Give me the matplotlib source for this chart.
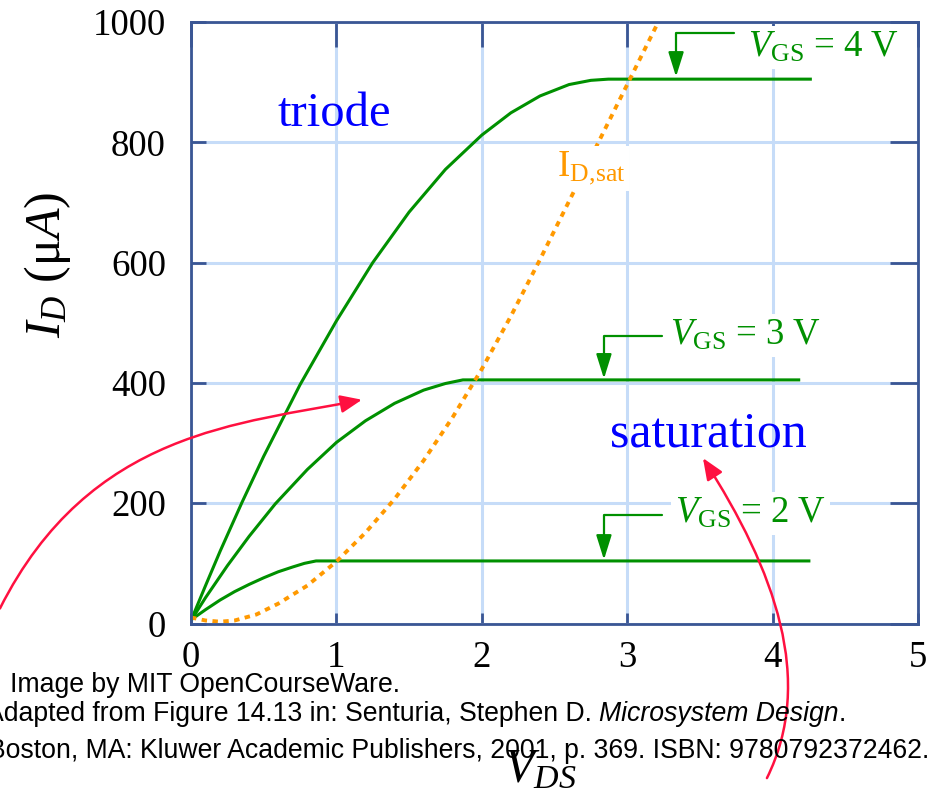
import matplotlib
matplotlib.use("Agg")
import matplotlib.pyplot as plt
from matplotlib.path import Path
from matplotlib.patches import FancyArrowPatch

# ---------------- data ----------------
x_ticks = [0, 1, 2, 3, 4, 5]
y_ticks = [0, 200, 400, 600, 800, 1000]

vds_4 = [0.0, 0.1, 0.2, 0.35, 0.5, 0.75, 1.0, 1.25, 1.5, 1.75, 2.0, 2.2, 2.4, 2.6, 2.75, 2.87, 4.27]
id_4 = [5, 63, 120, 201, 278, 397, 503, 600, 684, 755, 812, 849, 877, 896, 903, 905, 905]

vds_3 = [0.0, 0.1, 0.25, 0.4, 0.58, 0.8, 1.0, 1.2, 1.4, 1.6, 1.75, 1.87, 4.19]
id_3 = [5, 43, 96, 145, 199, 256, 301, 337, 366, 388, 399, 405, 405]

vds_2 = [0.0, 0.1, 0.2, 0.3, 0.4, 0.5, 0.6, 0.7, 0.78, 0.86, 4.26]
id_2 = [6, 23, 39, 53, 65, 76, 86, 94, 100, 104, 104]

vds_sat = [0.0, 0.1, 0.2, 0.3, 0.45, 0.6, 0.8, 1.0, 1.2, 1.4, 1.6, 1.8, 2.0, 2.2, 2.4, 2.6, 2.8, 3.0, 3.22]
id_sat = [10, 5, 3, 5, 15, 33, 63, 103, 151, 207, 271, 343, 423, 511, 605, 702, 799, 896, 1003]

vgs_labels = ["4", "3", "2"]

# ---------------- style ----------------
plt.rcParams["font.family"] = ["Liberation Serif", "DejaVu Serif"]
plt.rcParams["mathtext.fontset"] = "custom"
plt.rcParams["mathtext.rm"] = "Liberation Serif"
plt.rcParams["mathtext.it"] = "Liberation Serif:italic"
plt.rcParams["mathtext.bf"] = "Liberation Serif:bold"
plt.rcParams["axes.axisbelow"] = True

FRAME = "#3a5694"
GRID = "#c6dcf8"
GREEN = "#009000"
ORANGE = "#ff9900"
RED = "#ff1040"
BLUE = "#0000ff"

fig = plt.figure(figsize=(9.32, 7.95), dpi=100)
W, H = 932, 795
ax = fig.add_axes([191 / W, (H - 623.5) / H, (918 - 191) / W, (623.5 - 22) / H])
ax.set_xlim(0, 5)
ax.set_ylim(0, 1000)

for s in ax.spines.values():
    s.set_color(FRAME)
    s.set_linewidth(2)

ax.set_xticks(x_ticks)
ax.set_yticks(y_ticks)
ax.set_xticks(x_ticks, minor=True)
ax.set_yticks(y_ticks, minor=True)
ax.xaxis.remove_overlapping_locs = False
ax.yaxis.remove_overlapping_locs = False
ax.tick_params(axis="x", which="major", direction="in", length=8, width=2, color=FRAME,
               bottom=True, top=False, labelsize=26.5, pad=12)
ax.tick_params(axis="x", which="minor", direction="in", length=18, width=2, color=FRAME,
               bottom=False, top=True, labelbottom=False)
ax.tick_params(axis="y", which="major", direction="in", length=11, width=2, color=FRAME,
               left=True, right=False, labelsize=26.5, pad=18)
ax.tick_params(axis="y", which="minor", direction="in", length=20, width=2, color=FRAME,
               left=False, right=True, labelleft=False)
ax.grid(True, which="major", color=GRID, linewidth=2.2)

# ---------------- curves ----------------
for vx, iy in [(vds_4, id_4), (vds_3, id_3), (vds_2, id_2)]:
    ax.plot(vx, iy, color=GREEN, lw=2.2, zorder=2, solid_capstyle="butt",
            solid_joinstyle="round")
ax.plot(vds_sat, id_sat, color=ORANGE, lw=2.8, linestyle=(0, (1.4, 1.4)), zorder=2.2)

# ---------------- labels inside ----------------
ax.text(0.598, 827, "triode", color=BLUE, fontsize=35, ha="left", va="baseline")
ax.text(2.882, 295, "saturation", color=BLUE, fontsize=36, ha="left", va="baseline")
ax.text(2.515, 744, r"$\mathrm{I}_{\mathrm{D,\!sat}}$", color=ORANGE, fontsize=26.5, ha="left",
        va="baseline", bbox=dict(boxstyle="square,pad=0.1", fc="white", ec="none"), zorder=3)

label_pos = [(3.83, 942), (3.294, 463), (3.329, 167)]
elbows = [(3.735, 3.336, 982, 909), (3.239, 2.84, 478, 407), (3.239, 2.84, 180, 106)]
for lab, (lx, ly), (x0, x1, y0, y1) in zip(vgs_labels, label_pos, elbows):
    ax.text(lx, ly, r"$V_{\mathrm{GS}}$ = " + lab + " V", color=GREEN, fontsize=26.5,
            ha="left", va="baseline", zorder=3,
            bbox=dict(boxstyle="square,pad=0.12", fc="white", ec="none"))
    p = FancyArrowPatch(path=Path([(x0, y0), (x1, y0), (x1, y1)]),
                        arrowstyle="-|>,head_length=15,head_width=4.7", mutation_scale=1,
                        color=GREEN, lw=1.6, shrinkA=0, shrinkB=0, zorder=3.5)
    ax.add_patch(p)

# red curved arrows (data coordinates, extend outside axes)
red_paths = [
    [(-1.314, 25), (-0.695, 322), (0.351, 332), (1.176, 372)],
    [(3.961, -257), (4.292, -95), (4.017, 88), (3.521, 275)],
]
for pts in red_paths:
    path = Path(pts, [Path.MOVETO, Path.CURVE4, Path.CURVE4, Path.CURVE4])
    p = FancyArrowPatch(path=path, arrowstyle="-|>,head_length=13,head_width=5.4",
                        mutation_scale=1, color=RED, lw=1.8, shrinkA=0, shrinkB=0,
                        zorder=4, clip_on=False)
    ax.add_patch(p)

# axis titles
ax.text(-0.197, 0.596, r"$I_D$ (μ$A$)", rotation=90, fontsize=36, ha="center",
        va="center", transform=ax.transAxes)
ax.text(0.480, -0.245, r"$V_{DS}$", fontsize=35, ha="center", va="center",
        transform=ax.transAxes)

# credits
cfont = dict(family="Liberation Sans", fontsize=19.2, color="black")
fig.text(10 / W, (H - 691.7) / H, "Image by MIT OpenCourseWare.", ha="left",
         va="baseline", **cfont)
t1 = fig.text(-14 / W, (H - 726.7) / H, "Adapted from Figure 14.13 in: Senturia, Stephen D. ",
              ha="left", va="bottom", **cfont)
t2 = fig.text(0, 0, "Microsystem Design", style="italic", ha="left", va="bottom", **cfont)
t3 = fig.text(0, 0, ".", ha="left", va="bottom", **cfont)
renderer = fig.canvas.get_renderer()
bb1 = t1.get_window_extent(renderer)
t2.set_position((bb1.x1 / W, bb1.y0 / H))
bb2 = t2.get_window_extent(renderer)
t3.set_position((bb2.x1 / W, bb1.y0 / H))
fig.text(-12 / W, (H - 758) / H,
         "Boston, MA: Kluwer Academic Publishers, 2001, p. 369. ISBN: 9780792372462.",
         ha="left", va="baseline", **cfont)

fig.savefig("out.png", dpi=100)
